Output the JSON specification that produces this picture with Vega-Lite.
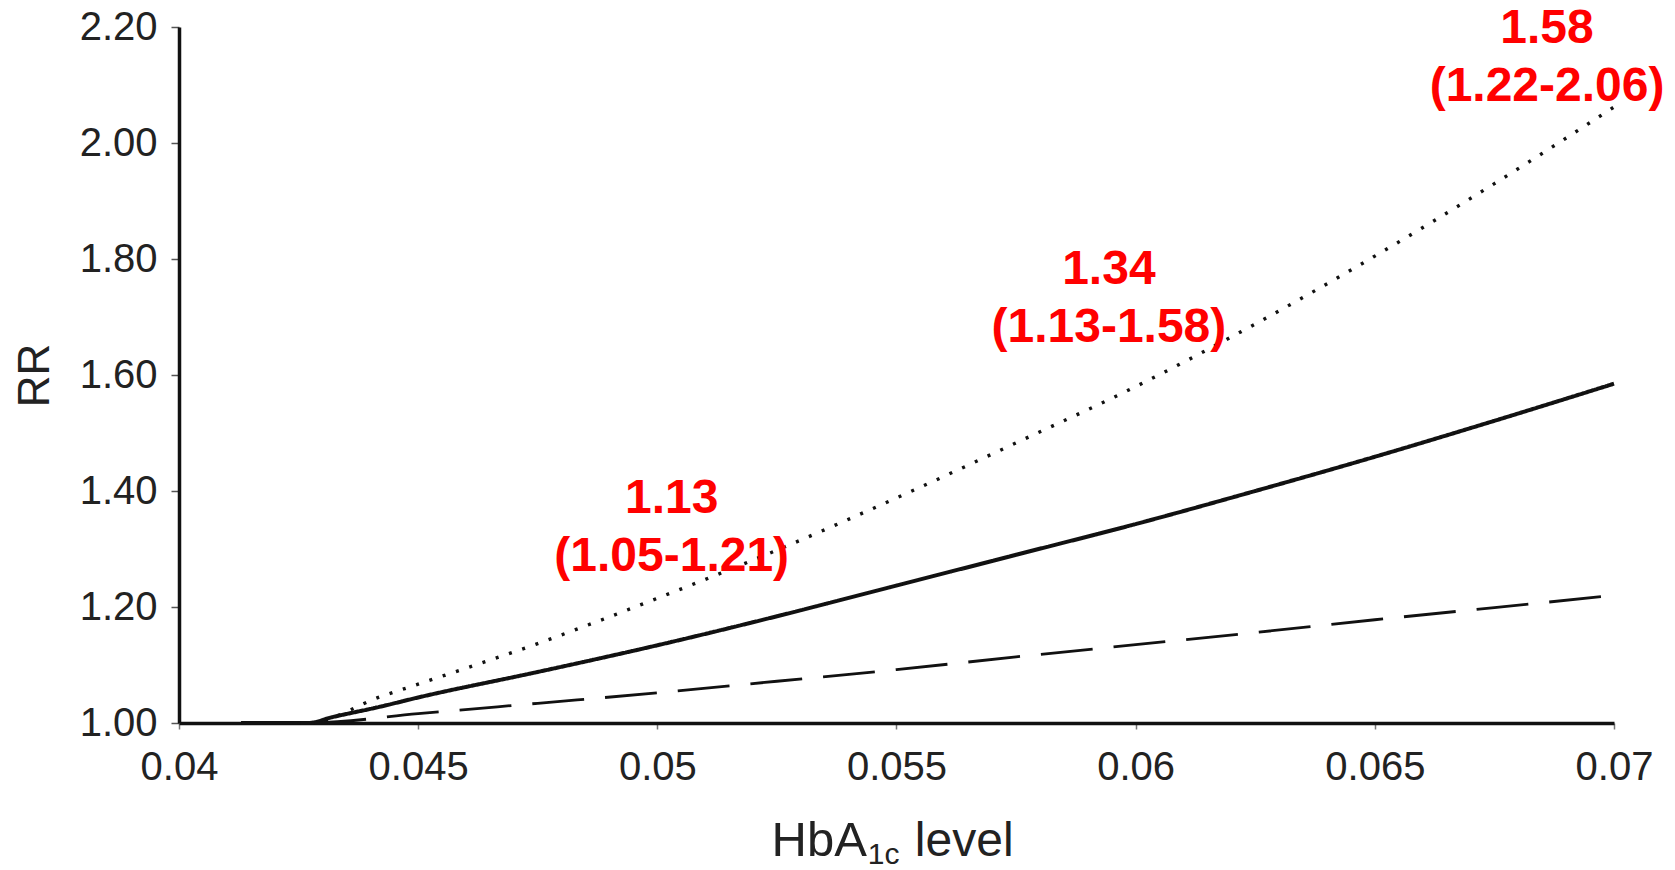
{
  "$schema": "https://vega.github.io/schema/vega-lite/v6.json",
  "autosize": {"type": "none"},
  "width": 1435,
  "height": 696,
  "padding": {"left": 179, "top": 27, "right": 61, "bottom": 147},
  "background": "white",
  "config": {
    "view": {"stroke": null},
    "font": "Liberation Sans"
  },
  "datasets": {
    "curves": [
      {"hba1c": 0.0413, "series": "RR", "value": 1.0},
      {"hba1c": 0.0427, "series": "RR", "value": 1.0},
      {"hba1c": 0.0432, "series": "RR", "value": 1.01},
      {"hba1c": 0.0442, "series": "RR", "value": 1.028},
      {"hba1c": 0.045, "series": "RR", "value": 1.044},
      {"hba1c": 0.0475, "series": "RR", "value": 1.088},
      {"hba1c": 0.05, "series": "RR", "value": 1.134},
      {"hba1c": 0.0525, "series": "RR", "value": 1.184},
      {"hba1c": 0.055, "series": "RR", "value": 1.237},
      {"hba1c": 0.0575, "series": "RR", "value": 1.29},
      {"hba1c": 0.06, "series": "RR", "value": 1.343},
      {"hba1c": 0.0625, "series": "RR", "value": 1.4},
      {"hba1c": 0.065, "series": "RR", "value": 1.459},
      {"hba1c": 0.0675, "series": "RR", "value": 1.521},
      {"hba1c": 0.07, "series": "RR", "value": 1.585},
      {"hba1c": 0.0413, "series": "Upper", "value": 1.0},
      {"hba1c": 0.0427, "series": "Upper", "value": 1.0},
      {"hba1c": 0.0442, "series": "Upper", "value": 1.045},
      {"hba1c": 0.045, "series": "Upper", "value": 1.067},
      {"hba1c": 0.0475, "series": "Upper", "value": 1.137},
      {"hba1c": 0.05, "series": "Upper", "value": 1.215},
      {"hba1c": 0.0525, "series": "Upper", "value": 1.298},
      {"hba1c": 0.055, "series": "Upper", "value": 1.388},
      {"hba1c": 0.0575, "series": "Upper", "value": 1.483},
      {"hba1c": 0.06, "series": "Upper", "value": 1.58},
      {"hba1c": 0.0625, "series": "Upper", "value": 1.688},
      {"hba1c": 0.065, "series": "Upper", "value": 1.805},
      {"hba1c": 0.0675, "series": "Upper", "value": 1.93},
      {"hba1c": 0.07, "series": "Upper", "value": 2.062},
      {"hba1c": 0.0413, "series": "Lower", "value": 1.0},
      {"hba1c": 0.0427, "series": "Lower", "value": 1.0},
      {"hba1c": 0.045, "series": "Lower", "value": 1.016},
      {"hba1c": 0.0475, "series": "Lower", "value": 1.034},
      {"hba1c": 0.05, "series": "Lower", "value": 1.052},
      {"hba1c": 0.0525, "series": "Lower", "value": 1.072},
      {"hba1c": 0.055, "series": "Lower", "value": 1.092},
      {"hba1c": 0.0575, "series": "Lower", "value": 1.114},
      {"hba1c": 0.06, "series": "Lower", "value": 1.135},
      {"hba1c": 0.0625, "series": "Lower", "value": 1.156},
      {"hba1c": 0.065, "series": "Lower", "value": 1.178},
      {"hba1c": 0.0675, "series": "Lower", "value": 1.199},
      {"hba1c": 0.07, "series": "Lower", "value": 1.22}
    ],
    "labels": [
      {"hba1c": 0.0503, "value": 1.386, "label": "1.13\n(1.05-1.21)"},
      {"hba1c": 0.05944, "value": 1.781, "label": "1.34\n(1.13-1.58)"},
      {"hba1c": 0.0686, "value": 2.196, "label": "1.58\n(1.22-2.06)"}
    ],
    "xtitle": [
      {"hba1c": 0.05438, "value": 1.0, "part": "HbA"},
      {"hba1c": 0.05438, "value": 1.0, "part": "1c"},
      {"hba1c": 0.05438, "value": 1.0, "part": "level"}
    ]
  },
  "layer": [
    {
      "data": {"name": "curves"},
      "mark": {"type": "line", "color": "#111", "strokeCap": "butt", "interpolate": "monotone"},
      "encoding": {
        "x": {
          "field": "hba1c", "type": "quantitative",
          "scale": {"domain": [0.04, 0.07], "nice": false, "zero": false},
          "axis": {
            "values": [0.04, 0.045, 0.05, 0.055, 0.06, 0.065, 0.07],
            "format": ".3~f",
            "title": null,
            "grid": false,
            "tickSize": 6, "tickColor": "#777", "tickWidth": 1.5,
            "domainColor": "#111", "domainWidth": 3.5,
            "labelFontSize": 40, "labelColor": "#222", "labelPadding": 18,
            "labelFlush": false, "labelOverlap": false, "labelBound": false
          }
        },
        "y": {
          "field": "value", "type": "quantitative",
          "scale": {"domain": [1.0, 2.2], "nice": false, "zero": false},
          "axis": {
            "values": [1.0, 1.2, 1.4, 1.6, 1.8, 2.0, 2.2],
            "format": ".2f",
            "title": "RR",
            "titleFontSize": 44, "titleFontWeight": "normal", "titleColor": "#222",
            "titleX": -144, "titleY": 348, "titleAngle": -90,
            "titleAlign": "center", "titleBaseline": "middle",
            "grid": false,
            "tickSize": 8, "tickColor": "#555", "tickWidth": 1.5,
            "domainColor": "#111", "domainWidth": 3.5,
            "labelFontSize": 40, "labelColor": "#222", "labelPadding": 14,
            "labelFlush": false, "labelOverlap": false, "labelBound": false
          }
        },
        "detail": {"field": "series"},
        "strokeDash": {
          "field": "series", "type": "nominal",
          "scale": {"domain": ["RR", "Upper", "Lower"], "range": [[1, 0], [3, 11], [52, 21]]},
          "legend": null
        },
        "strokeWidth": {
          "field": "series", "type": "nominal",
          "scale": {"domain": ["RR", "Upper", "Lower"], "range": [4, 2.8, 4.2]},
          "legend": null
        }
      }
    },
    {
      "data": {"name": "labels"},
      "mark": {"type": "text", "color": "#ff0000", "fontWeight": "bold", "fontSize": 48, "lineBreak": "\n", "lineHeight": 58, "align": "center", "baseline": "middle"},
      "encoding": {
        "x": {"field": "hba1c", "type": "quantitative"},
        "y": {"field": "value", "type": "quantitative"},
        "text": {"field": "label"}
      }
    },
    {
      "data": {"name": "xtitle"},
      "transform": [{"filter": "datum.part === 'HbA'"}],
      "mark": {"type": "text", "color": "#222", "fontSize": 49, "align": "right", "baseline": "alphabetic", "dy": 133},
      "encoding": {
        "x": {"field": "hba1c", "type": "quantitative"},
        "y": {"field": "value", "type": "quantitative"},
        "text": {"field": "part"}
      }
    },
    {
      "data": {"name": "xtitle"},
      "transform": [{"filter": "datum.part === '1c'"}],
      "mark": {"type": "text", "color": "#222", "fontSize": 30, "align": "left", "baseline": "alphabetic", "dx": 1, "dy": 141},
      "encoding": {
        "x": {"field": "hba1c", "type": "quantitative"},
        "y": {"field": "value", "type": "quantitative"},
        "text": {"field": "part"}
      }
    },
    {
      "data": {"name": "xtitle"},
      "transform": [{"filter": "datum.part === 'level'"}],
      "mark": {"type": "text", "color": "#222", "fontSize": 48, "align": "left", "baseline": "alphabetic", "dx": 48, "dy": 133},
      "encoding": {
        "x": {"field": "hba1c", "type": "quantitative"},
        "y": {"field": "value", "type": "quantitative"},
        "text": {"field": "part"}
      }
    }
  ]
}
